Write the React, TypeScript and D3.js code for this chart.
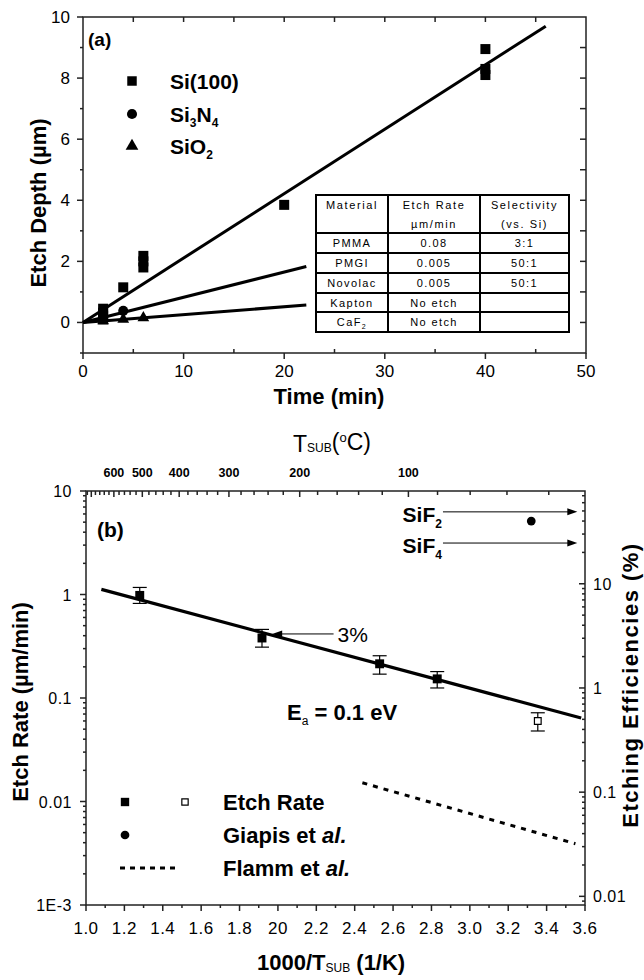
import React from "react";
import * as d3 from "d3";

// ---------- Panel (a) data ----------
const siTime = [2, 2, 2, 2, 4, 6, 6, 6, 20, 40, 40, 40];
const siDepth = [0.1, 0.22, 0.32, 0.45, 1.15, 1.8, 2.0, 2.18, 3.85, 8.1, 8.3, 8.95];
const sinTime = [2, 4];
const sinDepth = [0.15, 0.38];
const sioTime = [2, 4, 6];
const sioDepth = [0.05, 0.1, 0.15];
const fitSiT = [0, 46];
const fitSiD = [0, 9.7];
const fitSiNT = [0, 22.2];
const fitSiND = [0, 1.83];
const fitSiOT = [0, 22.2];
const fitSiOD = [0, 0.57];
const timeTicks = [0, 10, 20, 30, 40, 50];
const depthTicks = [0, 2, 4, 6, 8, 10];
const legendA = ["Si(100)", "Si3N4", "SiO2"];
const tableHead1 = ["Material", "Etch Rate", "Selectivity"];
const tableHead2 = ["", "µm/min", "(vs. Si)"];
const tableMaterial = ["PMMA", "PMGI", "Novolac", "Kapton", "CaF2"];
const tableRate = ["0.08", "0.005", "0.005", "No etch", "No etch"];
const tableSel = ["3:1", "50:1", "50:1", "", ""];

// ---------- Panel (b) data ----------
const invT = [1.28, 1.917, 2.53, 2.83];
const rate = [0.98, 0.38, 0.214, 0.153];
const rateLo = [0.82, 0.31, 0.17, 0.125];
const rateHi = [1.17, 0.46, 0.256, 0.18];
const openInvT = [3.354];
const openRate = [0.06];
const openLo = [0.048];
const openHi = [0.072];
const fitX = [1.08, 3.58];
const fitRate = [1.12, 0.064];
const giapisX = [3.32];
const giapisEff = [40];
const flammX = [2.44, 3.55];
const flammEff = [0.123, 0.032];
const invTTicks = [1.0, 1.2, 1.4, 1.6, 1.8, 2.0, 2.2, 2.4, 2.6, 2.8, 3.0, 3.2, 3.4, 3.6];
const invTLabels = ["1.0", "1.2", "1.4", "1.6", "1.8", "20", "2.2", "2.4", "2.6", "2.8", "3.0", "3.2", "3.4", "3.6"];
const rateTicks = [10, 1, 0.1, 0.01, 0.001];
const rateLabels = ["10", "1", "0.1", "0.01", "1E-3"];
const effTicks = [10, 1, 0.1, 0.01];
const effLabels = ["10", "1", "0.1", "0.01"];
const tempLabels = [600, 500, 400, 300, 200, 100];
const sifEff = [49, 24.6];
const sifNames = ["2", "4"];
const sifArrowX = [2.86, 3.56];
const pctArrowX = [2.29, 1.97];
const pctArrowEff = [3.3];

const TF = "'Liberation Sans', Arial, sans-serif";
const NF = "'Liberation Sans Narrow', 'Liberation Sans', Arial, sans-serif";

export default function App() {
  // Panel (a) scales
  const xA = d3.scaleLinear().domain([0, 50]).range([83, 586]);
  const yA = d3.scaleLinear().domain([-1, 10]).range([353, 17]);
  // Panel (b) scales
  const xB = d3.scaleLinear().domain([1.0, 3.6]).range([86, 585]);
  const yB = d3.scaleLog().domain([1e-3, 10]).range([905, 491]);
  const yR = d3.scaleLog().domain([0.00826, 77.7]).range([905, 491]);
  const tempX = (t: number) => xB(1000 / (t + 273.15));

  const lineA = d3
    .line<[number, number]>()
    .x((d) => xA(d[0]))
    .y((d) => yA(d[1]));
  const lineB = d3
    .line<[number, number]>()
    .x((d) => xB(d[0]))
    .y((d) => yB(d[1]));
  const lineR = d3
    .line<[number, number]>()
    .x((d) => xB(d[0]))
    .y((d) => yR(d[1]));

  const sq = d3.symbol().type(d3.symbolSquare).size(100)()!;
  const ci = d3.symbol().type(d3.symbolCircle).size(80)()!;
  const tri = d3.symbol().type(d3.symbolTriangle).size(60)()!;

  const AX = { stroke: "#222", strokeWidth: 1.5, fill: "none" } as const;

  // minor log ticks
  const logMinor = (dom: [number, number]) => {
    const out: number[] = [];
    for (let e = -4; e <= 2; e++) {
      for (let k = 2; k <= 9; k++) {
        const v = k * Math.pow(10, e);
        if (v > dom[0] && v < dom[1]) out.push(v);
      }
    }
    return out;
  };

  const tempMinor: number[] = [];
  for (let t = 20; t <= 720; t += 20) {
    const v = 1000 / (t + 273.15);
    if (v >= 1.0 && v <= 3.6) tempMinor.push(t);
  }

  const arrowHead = (x: number, y: number, dir: number) =>
    `M${x},${y} L${x - dir * 10},${y - 3.5} L${x - dir * 10},${y + 3.5} Z`;

  const rowY = [195, 233, 253, 273, 293, 312, 332];
  const colX = [316, 388, 480, 569];

  return (
    <svg
      width={644}
      height={980}
      style={{ position: "absolute", left: 0, top: 0, background: "#fff" }}
      fontFamily={TF}
    >
      <rect x={0} y={0} width={644} height={980} fill="#fff" />

      {/* ================= Panel (a) ================= */}
      <rect x={xA(0)} y={yA(10)} width={xA(50) - xA(0)} height={yA(-1) - yA(10)} {...AX} />
      {/* left ticks */}
      {d3.range(-1, 11).map((v) => (
        <line key={"la" + v} x1={xA(0)} x2={xA(0) - (v % 2 === 0 ? 6 : 3)} y1={yA(v)} y2={yA(v)} {...AX} />
      ))}
      {depthTicks.map((v) => (
        <text key={"lt" + v} x={70} y={yA(v) + 6} textAnchor="end" fontSize={17} fontFamily={NF}>
          {v}
        </text>
      ))}
      {/* right ticks */}
      {d3.range(0, 10).map((v) => (
        <line key={"ra" + v} x1={xA(50)} x2={xA(50) - 6} y1={yA(v)} y2={yA(v)} {...AX} />
      ))}
      {/* bottom ticks */}
      {timeTicks.map((v) => (
        <line key={"ba" + v} x1={xA(v)} x2={xA(v)} y1={yA(-1)} y2={yA(-1) + 6} {...AX} />
      ))}
      {d3.range(5, 50, 10).map((v) => (
        <line key={"bm" + v} x1={xA(v)} x2={xA(v)} y1={yA(-1)} y2={yA(-1) - 4} {...AX} />
      ))}
      {timeTicks.map((v) => (
        <text key={"bt" + v} x={xA(v)} y={377} textAnchor="middle" fontSize={17} fontFamily={NF}>
          {v}
        </text>
      ))}
      {/* top ticks */}
      {d3.range(5, 50, 5).map((v) => (
        <line key={"ta" + v} x1={xA(v)} x2={xA(v)} y1={yA(10)} y2={yA(10) + 5} {...AX} />
      ))}
      {/* axis titles */}
      <text x={329} y={404} textAnchor="middle" fontSize={22} fontWeight="bold">
        Time (min)
      </text>
      <text transform="translate(46,203) rotate(-90)" textAnchor="middle" fontSize={22} fontWeight="bold">
        Etch Depth (µm)
      </text>
      <text x={88} y={46} fontSize={19} fontWeight="bold">
        (a)
      </text>

      {/* fit lines */}
      <path d={lineA(fitSiT.map((t, i) => [t, fitSiD[i]]) as [number, number][])!} stroke="#000" strokeWidth={3} fill="none" />
      <path d={lineA(fitSiNT.map((t, i) => [t, fitSiND[i]]) as [number, number][])!} stroke="#000" strokeWidth={3} fill="none" />
      <path d={lineA(fitSiOT.map((t, i) => [t, fitSiOD[i]]) as [number, number][])!} stroke="#000" strokeWidth={3} fill="none" />

      {/* data points */}
      {siTime.map((t, i) => (
        <path key={"si" + i} d={sq} transform={`translate(${xA(t)},${yA(siDepth[i])})`} fill="#000" />
      ))}
      {sinTime.map((t, i) => (
        <path key={"sin" + i} d={ci} transform={`translate(${xA(t)},${yA(sinDepth[i])})`} fill="#000" />
      ))}
      {sioTime.map((t, i) => (
        <path key={"sio" + i} d={tri} transform={`translate(${xA(t)},${yA(sioDepth[i])})`} fill="#000" />
      ))}

      {/* legend (a) */}
      <path d={d3.symbol().type(d3.symbolSquare).size(90)()!} transform="translate(132,81)" fill="#000" />
      <path d={d3.symbol().type(d3.symbolCircle).size(80)()!} transform="translate(132,114)" fill="#000" />
      <path d={d3.symbol().type(d3.symbolTriangle).size(70)()!} transform="translate(132,146)" fill="#000" />
      <text x={170} y={89} fontSize={21} fontWeight="bold">
        {legendA[0]}
      </text>
      <text x={170} y={122} fontSize={21} fontWeight="bold">
        Si<tspan fontSize={12} dy={5}>3</tspan>
        <tspan dy={-5}>N</tspan>
        <tspan fontSize={12} dy={5}>4</tspan>
      </text>
      <text x={170} y={154} fontSize={21} fontWeight="bold">
        SiO<tspan fontSize={12} dy={5}>2</tspan>
      </text>

      {/* table */}
      <rect x={colX[0]} y={rowY[0]} width={colX[3] - colX[0]} height={rowY[6] - rowY[0]} fill="#fff" stroke="#000" strokeWidth={2} />
      {rowY.slice(1, 6).map((y, i) => (
        <line key={"tr" + i} x1={colX[0]} x2={colX[3]} y1={y} y2={y} stroke="#000" strokeWidth={2} />
      ))}
      {colX.slice(1, 3).map((x, i) => (
        <line key={"tc" + i} x1={x} x2={x} y1={rowY[0]} y2={rowY[6]} stroke="#000" strokeWidth={2} />
      ))}
      {[tableHead1, tableHead2].map((row, r) =>
        row.map((s, c) => (
          <text
            key={"th" + r + c}
            x={(colX[c] + colX[c + 1]) / 2}
            y={209 + r * 19}
            textAnchor="middle"
            fontSize={11}
            letterSpacing={1.6}
          >
            {s}
          </text>
        ))
      )}
      {tableMaterial.map((m, i) => (
        <g key={"row" + i} fontSize={11} letterSpacing={1.4} textAnchor="middle">
          <text x={(colX[0] + colX[1]) / 2} y={rowY[i + 1] + 14}>
            {m === "CaF2" ? (
              <>
                CaF<tspan fontSize={7} dy={3}>2</tspan>
              </>
            ) : (
              m
            )}
          </text>
          <text x={(colX[1] + colX[2]) / 2} y={rowY[i + 1] + 14}>
            {tableRate[i]}
          </text>
          <text x={(colX[2] + colX[3]) / 2} y={rowY[i + 1] + 14}>
            {tableSel[i]}
          </text>
        </g>
      ))}

      {/* ================= Panel (b) ================= */}
      <rect x={xB(1.0)} y={yB(10)} width={xB(3.6) - xB(1.0)} height={yB(1e-3) - yB(10)} {...AX} />
      {/* left ticks */}
      {rateTicks.map((v, i) => (
        <g key={"lb" + i}>
          <line x1={xB(1)} x2={xB(1) - 6} y1={yB(v)} y2={yB(v)} {...AX} />
          <text x={72} y={yB(v) + 6} textAnchor="end" fontSize={16} letterSpacing={0.5}>
            {rateLabels[i]}
          </text>
        </g>
      ))}
      {logMinor([1e-3, 10]).map((v, i) => (
        <line key={"lbm" + i} x1={xB(1)} x2={xB(1) - 3} y1={yB(v)} y2={yB(v)} {...AX} />
      ))}
      {/* right ticks */}
      {effTicks.map((v, i) => (
        <g key={"rb" + i}>
          <line x1={xB(3.6)} x2={xB(3.6) - 6} y1={yR(v)} y2={yR(v)} {...AX} />
          <text x={593} y={yR(v) + 6} fontSize={16} letterSpacing={0.5}>
            {effLabels[i]}
          </text>
        </g>
      ))}
      {logMinor([0.00826, 77.7]).map((v, i) => (
        <line key={"rbm" + i} x1={xB(3.6)} x2={xB(3.6) - 3} y1={yR(v)} y2={yR(v)} {...AX} />
      ))}
      {/* bottom ticks */}
      {invTTicks.map((v, i) => (
        <g key={"bb" + i}>
          <line x1={xB(v)} x2={xB(v)} y1={yB(1e-3)} y2={yB(1e-3) + 6} {...AX} />
          <text x={xB(v)} y={934} textAnchor="middle" fontSize={17} letterSpacing={0.5}>
            {invTLabels[i]}
          </text>
        </g>
      ))}
      {d3.range(1.1, 3.6, 0.2).map((v, i) => (
        <line key={"bbm" + i} x1={xB(v)} x2={xB(v)} y1={yB(1e-3)} y2={yB(1e-3) + 3} {...AX} />
      ))}
      {/* top temperature ticks */}
      {tempMinor.map((t) => (
        <line key={"tt" + t} x1={tempX(t)} x2={tempX(t)} y1={yB(10)} y2={yB(10) + (t % 100 === 0 ? 6 : 4)} {...AX} />
      ))}
      {tempLabels.map((t) => (
        <text key={"tl" + t} x={tempX(t)} y={477} textAnchor="middle" fontSize={12.5} fontWeight="bold">
          {t}
        </text>
      ))}
      {/* axis titles */}
      <text x={293} y={452} fontSize={23}>
        T<tspan fontSize={12} dy={0}>SUB</tspan>
        <tspan dy={-2}>(</tspan>
        <tspan fontSize={13} dy={-8}>o</tspan>
        <tspan dy={8}>C)</tspan>
      </text>
      <text x={257} y={970} fontSize={22} fontWeight="bold">
        1000/T<tspan fontSize={12} fontWeight="normal" dy={2}>SUB</tspan>
        <tspan dy={-2}> (1/K)</tspan>
      </text>
      <text transform="translate(28,702) rotate(-90)" textAnchor="middle" fontSize={22} fontWeight="bold">
        Etch Rate (µm/min)
      </text>
      <text transform="translate(638,685) rotate(-90)" textAnchor="middle" fontSize={22} fontWeight="bold" letterSpacing={1.5}>
        Etching Efficiencies (%)
      </text>
      <text x={97} y={537} fontSize={21} fontWeight="bold">
        (b)
      </text>

      {/* fit line */}
      <path d={lineB(fitX.map((x, i) => [x, fitRate[i]]) as [number, number][])!} stroke="#000" strokeWidth={3.2} fill="none" />
      {/* Flamm dashed */}
      <path
        d={lineR(flammX.map((x, i) => [x, flammEff[i]]) as [number, number][])!}
        stroke="#000"
        strokeWidth={3}
        strokeDasharray="5,6"
        fill="none"
      />

      {/* error bars and points */}
      {invT.map((x, i) => (
        <g key={"er" + i}>
          <line x1={xB(x)} x2={xB(x)} y1={yB(rateLo[i])} y2={yB(rateHi[i])} stroke="#000" strokeWidth={1.2} />
          <line x1={xB(x) - 7} x2={xB(x) + 7} y1={yB(rateLo[i])} y2={yB(rateLo[i])} stroke="#000" strokeWidth={1.2} />
          <line x1={xB(x) - 7} x2={xB(x) + 7} y1={yB(rateHi[i])} y2={yB(rateHi[i])} stroke="#000" strokeWidth={1.2} />
          <path d={d3.symbol().type(d3.symbolSquare).size(80)()!} transform={`translate(${xB(x)},${yB(rate[i])})`} fill="#000" />
        </g>
      ))}
      {openInvT.map((x, i) => (
        <g key={"op" + i}>
          <line x1={xB(x)} x2={xB(x)} y1={yB(openLo[i])} y2={yB(openHi[i])} stroke="#000" strokeWidth={1.2} />
          <line x1={xB(x) - 7} x2={xB(x) + 7} y1={yB(openLo[i])} y2={yB(openLo[i])} stroke="#000" strokeWidth={1.2} />
          <line x1={xB(x) - 7} x2={xB(x) + 7} y1={yB(openHi[i])} y2={yB(openHi[i])} stroke="#000" strokeWidth={1.2} />
          <path d={d3.symbol().type(d3.symbolSquare).size(45)()!} transform={`translate(${xB(x)},${yB(openRate[i])})`} fill="#fff" stroke="#000" strokeWidth={1.2} />
        </g>
      ))}
      {giapisX.map((x, i) => (
        <path key={"gi" + i} d={d3.symbol().type(d3.symbolCircle).size(60)()!} transform={`translate(${xB(x)},${yR(giapisEff[i])})`} fill="#000" />
      ))}

      {/* SiF arrows */}
      {sifEff.map((v, i) => (
        <g key={"sif" + i}>
          <line x1={xB(sifArrowX[0])} x2={xB(sifArrowX[1]) - 6} y1={yR(v)} y2={yR(v)} stroke="#000" strokeWidth={1} />
          <path d={arrowHead(xB(sifArrowX[1]), yR(v), 1)} fill="#000" />
          <text x={xB(sifArrowX[0]) - 1} y={yR(v) + 10} textAnchor="end" fontSize={21} fontWeight="bold">
            SiF<tspan fontSize={12} dy={6}>{sifNames[i]}</tspan>
          </text>
        </g>
      ))}
      {/* 3% arrow */}
      {pctArrowEff.map((v, i) => (
        <g key={"pct" + i}>
          <line x1={xB(pctArrowX[0])} x2={xB(pctArrowX[1]) + 6} y1={yR(v)} y2={yR(v)} stroke="#000" strokeWidth={1} />
          <path d={arrowHead(xB(pctArrowX[1]), yR(v), -1)} fill="#000" />
          <text x={xB(pctArrowX[0]) + 4} y={yR(v) + 8} fontSize={21}>
            3%
          </text>
        </g>
      ))}

      {/* Ea label */}
      <text x={287} y={720} fontSize={22} fontWeight="bold">
        E<tspan fontSize={12} dy={5} fontWeight="normal">a</tspan>
        <tspan dy={-5}> = 0.1 eV</tspan>
      </text>

      {/* legend (b) */}
      <path d={d3.symbol().type(d3.symbolSquare).size(70)()!} transform="translate(125,802)" fill="#000" />
      <path d={d3.symbol().type(d3.symbolSquare).size(40)()!} transform="translate(185,802)" fill="#fff" stroke="#000" strokeWidth={1.2} />
      <path d={d3.symbol().type(d3.symbolCircle).size(60)()!} transform="translate(125,835)" fill="#000" />
      <line x1={120} x2={176} y1={868} y2={868} stroke="#000" strokeWidth={3} strokeDasharray="5,5" />
      <text x={223} y={810} fontSize={22} fontWeight="bold">
        Etch Rate
      </text>
      <text x={223} y={843} fontSize={22} fontWeight="bold">
        Giapis et <tspan fontStyle="italic">al.</tspan>
      </text>
      <text x={223} y={876} fontSize={22} fontWeight="bold">
        Flamm et <tspan fontStyle="italic">al.</tspan>
      </text>
    </svg>
  );
}
